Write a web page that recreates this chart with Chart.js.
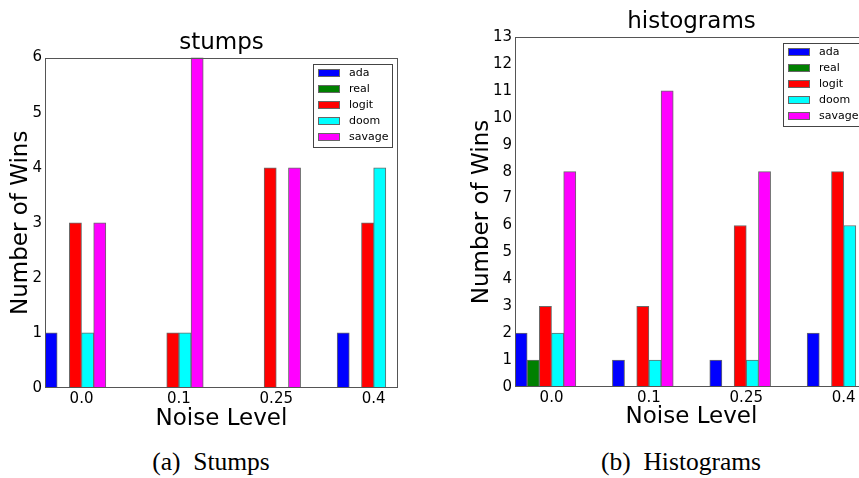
<!DOCTYPE html>
<html>
<head>
<meta charset="utf-8">
<style>
html, body { margin:0; padding:0; background:#fff; width:859px; height:478px; overflow:hidden; position:relative; }
canvas { position:absolute; top:0; }
#c1 { left:0; }
#c2 { left:430px; }
.cap { position:absolute; top:449px; font-family:"Liberation Serif","Times New Roman",serif; font-size:25.5px; line-height:25.5px; color:#000; white-space:pre; transform:translateX(-50%); }
</style>
<script src="https://cdn.jsdelivr.net/npm/chart.js@4.4.0/dist/chart.umd.min.js"></script>
</head>
<body>
<canvas id="c1" width="430" height="440"></canvas>
<canvas id="c2" width="450" height="440"></canvas>
<div class="cap" style="left:211px">(a)&#8194;Stumps</div>
<div class="cap" style="left:681px">(b)&#8194;Histograms</div>
<script>
// ---- data ----
const noiseLevels = ['0.0', '0.1', '0.25', '0.4'];
const methods = ['ada', 'real', 'logit', 'doom', 'savage'];
const methodColors = ['#0000ff', '#008000', '#ff0000', '#00ffff', '#ff00ff'];

const stumpsAda    = [1, 0, 0, 1];
const stumpsReal   = [0, 0, 0, 0];
const stumpsLogit  = [3, 1, 4, 3];
const stumpsDoom   = [1, 1, 0, 4];
const stumpsSavage = [3, 6, 4, 0];

const histAda    = [2, 1, 1, 2];
const histReal   = [1, 0, 0, 0];
const histLogit  = [3, 3, 6, 8];
const histDoom   = [2, 1, 1, 6];
const histSavage = [8, 11, 8, 0];

const stumpsMax = 6;
const histMax = 13;

// ---- layout helpers ----
const BAR_W = 0.125;                 // width of one bar in group units
const X_MAX = noiseLevels.length - 1 + methods.length * BAR_W;
const FONT = '"DejaVu Sans", "Liberation Sans", sans-serif';

function makeDatasets(seriesList) {
  return seriesList.map((vals, i) => ({
    label: methods[i],
    data: vals.map((v, g) => ({ x: g + (i + 0.5) * BAR_W, y: v })),
    backgroundColor: methodColors[i],
    borderColor: '#6a6a6a',
    borderWidth: 1,
    borderSkipped: 'start',
    grouped: false,
    barPercentage: 1,
    categoryPercentage: 1
  }));
}

const frameLegendPlugin = {
  id: 'frameLegend',
  afterDraw(chart) {
    const { ctx, chartArea: a } = chart;
    ctx.save();
    // axes frame
    ctx.strokeStyle = '#555';
    ctx.lineWidth = 1;
    ctx.strokeRect(Math.round(a.left) + 0.5, Math.round(a.top) + 0.5,
                   Math.round(a.right - a.left) - 1, Math.round(a.bottom - a.top) - 1);
    // legend box
    const W = 80, H = 84;
    const x0 = Math.round(a.right - 5 - W), y0 = Math.round(a.top + 6);
    ctx.fillStyle = '#fff';
    ctx.fillRect(x0, y0, W, H);
    ctx.strokeStyle = '#444';
    ctx.strokeRect(x0 + 0.5, y0 + 0.5, W - 1, H - 1);
    ctx.font = '11px ' + FONT;
    ctx.textBaseline = 'middle';
    chart.data.datasets.forEach((ds, i) => {
      const cy = Math.round(y0 + 9 + i * 16.1);
      ctx.fillStyle = ds.backgroundColor;
      ctx.fillRect(x0 + 5, cy - 4, 22, 8);
      ctx.strokeStyle = '#666';
      ctx.strokeRect(x0 + 5.5, cy - 3.5, 21, 7);
      ctx.fillStyle = '#000';
      ctx.fillText(ds.label, x0 + 36, cy + 0.5);
    });
    ctx.restore();
  }
};

function makeChart(id, title, seriesList, yMax, geo) {
  return new Chart(document.getElementById(id), {
    type: 'bar',
    data: { datasets: makeDatasets(seriesList) },
    plugins: [frameLegendPlugin],
    options: {
      responsive: false,
      animation: false,
      events: [],
      layout: { padding: { left: 0, right: geo.padRight, top: 0, bottom: 0 } },
      plugins: {
        legend: { display: false },
        tooltip: { enabled: false },
        title: {
          display: true,
          text: title,
          fullSize: false,
          color: '#000',
          font: { family: FONT, size: 23, weight: 'normal', lineHeight: 1.2 },
          padding: { top: geo.titleTop, bottom: geo.titleBottom }
        }
      },
      scales: {
        x: {
          type: 'linear',
          min: 0,
          max: X_MAX,
          offset: false,
          grid: { display: false, drawTicks: false, offset: false },
          border: { display: false },
          afterBuildTicks: (scale) => {
            scale.ticks = noiseLevels.map((_, g) => ({ value: g + 3 * BAR_W }));
          },
          afterFit: (scale) => { scale.height = geo.xHeight; },
          ticks: {
            autoSkip: false,
            maxRotation: 0,
            padding: 2,
            color: '#000',
            font: { family: FONT, size: 15 },
            callback: (v, i) => noiseLevels[i]
          },
          title: {
            display: true,
            text: 'Noise Level',
            color: '#000',
            font: { family: FONT, size: 23, lineHeight: 1.2 },
            padding: { top: 0, bottom: geo.xTitleBottom }
          }
        },
        y: {
          type: 'linear',
          min: 0,
          max: yMax,
          grid: { display: false, drawTicks: false },
          border: { display: false },
          afterFit: (scale) => { scale.width = geo.yWidth; },
          ticks: {
            stepSize: 1,
            padding: 3,
            color: '#000',
            font: { family: FONT, size: 15 }
          },
          title: {
            display: true,
            text: 'Number of Wins',
            color: '#000',
            font: { family: FONT, size: 23, lineHeight: 1.2 },
            padding: { top: geo.yTitleTop, bottom: 0 }
          }
        }
      }
    }
  });
}

makeChart('c1', 'stumps',
  [stumpsAda, stumpsReal, stumpsLogit, stumpsDoom, stumpsSavage], stumpsMax,
  { padRight: 32, titleTop: 29.4, titleBottom: 0.6, xHeight: 52, xTitleBottom: 7.4, yWidth: 45, yTitleTop: 7.2 });

makeChart('c2', 'histograms',
  [histAda, histReal, histLogit, histDoom, histSavage], histMax,
  { padRight: 12, titleTop: 8.2, titleBottom: 1.2, xHeight: 53, xTitleBottom: 9.4, yWidth: 85, yTitleTop: 38.2 });
</script>
</body>
</html>
